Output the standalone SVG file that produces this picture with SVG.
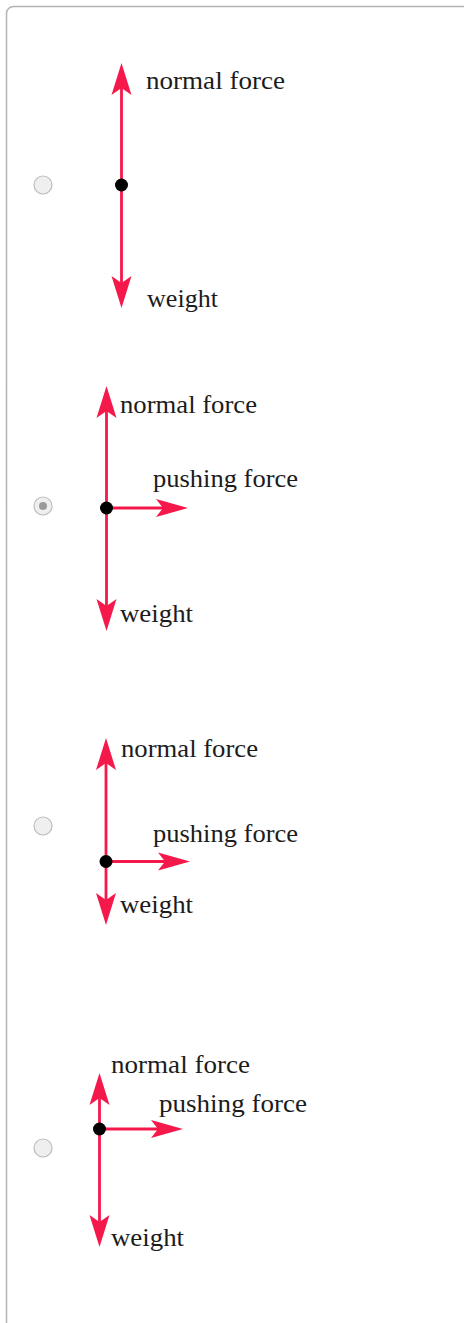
<svg xmlns="http://www.w3.org/2000/svg" xmlns:xlink="http://www.w3.org/1999/xlink" width="464" height="1323" viewBox="0 0 464 1323">
<style>
.frame{fill:#fff;stroke:#b3b3b3;stroke-width:1.5}
.radio{fill:#efefef;stroke:#bdbdbd;stroke-width:1.2}
.radiodot{fill:#9a9a9a}
.vec{stroke:#f5184a;stroke-width:2.8;fill:none}
.head{fill:#f5184a}
.dot{fill:#000}
.lbl{font-family:"Liberation Serif","Times New Roman",serif;font-size:25px;fill:#1c1c1c}
</style>
<defs>
<path id="ah" d="M0,0 L10,32 L0,25 L-10,32 Z" class="head"/>
<path id="ahh" d="M0,0 L9,32 L0,25 L-9,32 Z" class="head"/>
</defs>
<rect class="frame" x="6.5" y="6.5" width="480" height="1340" rx="7"/>

<g id="option1">
<circle class="radio" cx="43" cy="185" r="9"/>
<line class="vec" x1="121.5" y1="85" x2="121.5" y2="286"/>
<use xlink:href="#ah" href="#ah" transform="translate(121.5,63)"/>
<use xlink:href="#ah" href="#ah" transform="translate(121.5,308) rotate(180)"/>
<circle class="dot" cx="121.5" cy="185" r="6.5"/>
<text class="lbl" x="146" y="89" textLength="139" lengthAdjust="spacingAndGlyphs">normal force</text>
<text class="lbl" x="147" y="307" textLength="71" lengthAdjust="spacingAndGlyphs">weight</text>
</g>

<g id="option2">
<circle class="radio" cx="43" cy="506" r="9"/>
<circle class="radiodot" cx="43" cy="506" r="4"/>
<line class="vec" x1="106.5" y1="408" x2="106.5" y2="609"/>
<line class="vec" x1="106.5" y1="508" x2="166" y2="508"/>
<use xlink:href="#ah" href="#ah" transform="translate(106.5,386)"/>
<use xlink:href="#ah" href="#ah" transform="translate(106.5,631) rotate(180)"/>
<use xlink:href="#ahh" href="#ahh" transform="translate(188,508) rotate(90)"/>
<circle class="dot" cx="106.5" cy="508" r="6.5"/>
<text class="lbl" x="120" y="413" textLength="137" lengthAdjust="spacingAndGlyphs">normal force</text>
<text class="lbl" x="153" y="487" textLength="145" lengthAdjust="spacingAndGlyphs">pushing force</text>
<text class="lbl" x="120" y="622" textLength="73" lengthAdjust="spacingAndGlyphs">weight</text>
</g>

<g id="option3">
<circle class="radio" cx="43" cy="826" r="9"/>
<line class="vec" x1="106" y1="760" x2="106" y2="903"/>
<line class="vec" x1="106" y1="861.5" x2="168" y2="861.5"/>
<use xlink:href="#ah" href="#ah" transform="translate(106,738)"/>
<use xlink:href="#ah" href="#ah" transform="translate(106,925) rotate(180)"/>
<use xlink:href="#ahh" href="#ahh" transform="translate(190,861.5) rotate(90)"/>
<circle class="dot" cx="106" cy="861.5" r="6.5"/>
<text class="lbl" x="121" y="757" textLength="137" lengthAdjust="spacingAndGlyphs">normal force</text>
<text class="lbl" x="153" y="842" textLength="145" lengthAdjust="spacingAndGlyphs">pushing force</text>
<text class="lbl" x="120" y="913" textLength="73" lengthAdjust="spacingAndGlyphs">weight</text>
</g>

<g id="option4">
<circle class="radio" cx="43" cy="1148" r="9"/>
<line class="vec" x1="99.5" y1="1095" x2="99.5" y2="1225"/>
<line class="vec" x1="99.5" y1="1129" x2="161" y2="1129"/>
<use xlink:href="#ah" href="#ah" transform="translate(99.5,1073)"/>
<use xlink:href="#ah" href="#ah" transform="translate(99.5,1247) rotate(180)"/>
<use xlink:href="#ahh" href="#ahh" transform="translate(183,1129) rotate(90)"/>
<circle class="dot" cx="99.5" cy="1129" r="6.5"/>
<text class="lbl" x="111" y="1073" textLength="139" lengthAdjust="spacingAndGlyphs">normal force</text>
<text class="lbl" x="159" y="1112" textLength="148" lengthAdjust="spacingAndGlyphs">pushing force</text>
<text class="lbl" x="111" y="1246" textLength="73" lengthAdjust="spacingAndGlyphs">weight</text>
</g>
</svg>
